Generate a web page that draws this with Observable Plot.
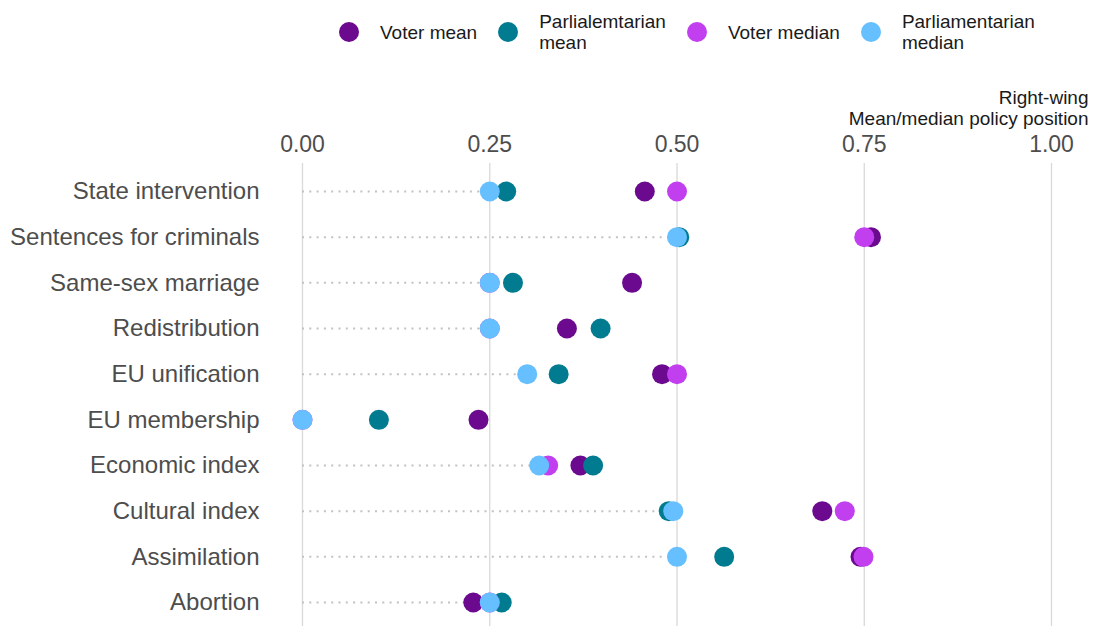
<!DOCTYPE html>
<html><head><meta charset="utf-8">
<script src="https://cdn.jsdelivr.net/npm/d3@7"></script>
<script src="https://cdn.jsdelivr.net/npm/@observablehq/plot@0.6"></script>
<style>
body{margin:0;background:#fff;font-family:"Liberation Sans",Arial,sans-serif;}
#legend{position:relative;height:65px;width:1094px;}
.items{position:absolute;left:339px;top:11px;display:flex;align-items:center;gap:21px;font-size:19px;color:#1a1a1a;}
.sw{width:20px;height:20px;border-radius:50%;flex:none;}
.lab{line-height:21px;}
#chart svg{display:block;}
</style></head><body>
<div id="legend"><div class="items" id="items"></div></div>
<div id="chart"></div>
<script>
const topics = ["State intervention","Sentences for criminals","Same-sex marriage","Redistribution","EU unification","EU membership","Economic index","Cultural index","Assimilation","Abortion"];
const voterMean   = [0.457, 0.759, 0.440, 0.353, 0.480, 0.235, 0.371, 0.694, 0.745, 0.228];
const parlMean    = [0.272, 0.503, 0.281, 0.398, 0.342, 0.102, 0.388, 0.489, 0.563, 0.266];
const voterMedian = [0.500, 0.750, 0.250, 0.250, 0.500, 0.000, 0.328, 0.724, 0.749, 0.250];
const parlMedian  = [0.250, 0.500, 0.250, 0.250, 0.300, 0.000, 0.316, 0.495, 0.500, 0.250];
const seriesNames = ["Voter mean","Parlialemtarian\nmean","Voter median","Parliamentarian\nmedian"];
const seriesColors = ["#6b0a8f","#007b8f","#c23ff0","#66bfff"];
const xTicks = [0, 0.25, 0.5, 0.75, 1];
const axisTitle = "Right-wing\nMean/median policy position";

const seriesValues = [voterMean, parlMean, voterMedian, parlMedian];
const long = [];
seriesValues.forEach((vals, s) => vals.forEach((v, i) => long.push({topic: topics[i], series: seriesNames[s], value: v})));
const rows = topics.map((t, i) => ({topic: t, min: Math.min(voterMean[i], parlMean[i], voterMedian[i], parlMedian[i])}));

// legend
const items = document.getElementById("items");
seriesNames.forEach((n, i) => {
  const sw = document.createElement("div"); sw.className = "sw"; sw.style.background = seriesColors[i];
  const lab = document.createElement("div"); lab.className = "lab"; lab.innerHTML = n.replace("\n", "<br>");
  items.appendChild(sw); items.appendChild(lab);
});

const chart = Plot.plot({
  width: 1094, height: 561,
  marginLeft: 302, marginRight: 43, marginTop: 98, marginBottom: 0,
  style: {fontFamily: "Liberation Sans, Arial, sans-serif", fontSize: "23px", color: "#4d4d4d", background: "white", overflow: "visible"},
  x: {domain: [0, 1]},
  y: {type: "point", domain: topics, range: [126, 537], padding: 0, round: false},
  color: {domain: seriesNames, range: seriesColors},
  marks: [
    Plot.gridX(xTicks, {stroke: "#d9d9d9", strokeOpacity: 1, strokeWidth: 1.3}),
    Plot.ruleY(rows, {y: "topic", x1: 0, x2: "min", stroke: "#c2c2c2", strokeWidth: 2, strokeDasharray: "2,5.3"}),
    Plot.dot(long, {x: "value", y: "topic", fill: "series", r: 10}),
    Plot.axisX(xTicks, {anchor: "top", tickSize: 0, tickPadding: 12, fontSize: 23, tickFormat: d => d.toFixed(2), label: null}),
    Plot.axisY({tickSize: 0, tickPadding: 43, fontSize: 24, label: null}),
    Plot.text([axisTitle], {text: d => d, frameAnchor: "top-right", dx: 37, dy: -74, textAnchor: "end", lineAnchor: "top", lineHeight: 1.1, fontSize: 19, fill: "#1a1a1a"})
  ]
});
document.getElementById("chart").appendChild(chart);
</script>
</body></html>
